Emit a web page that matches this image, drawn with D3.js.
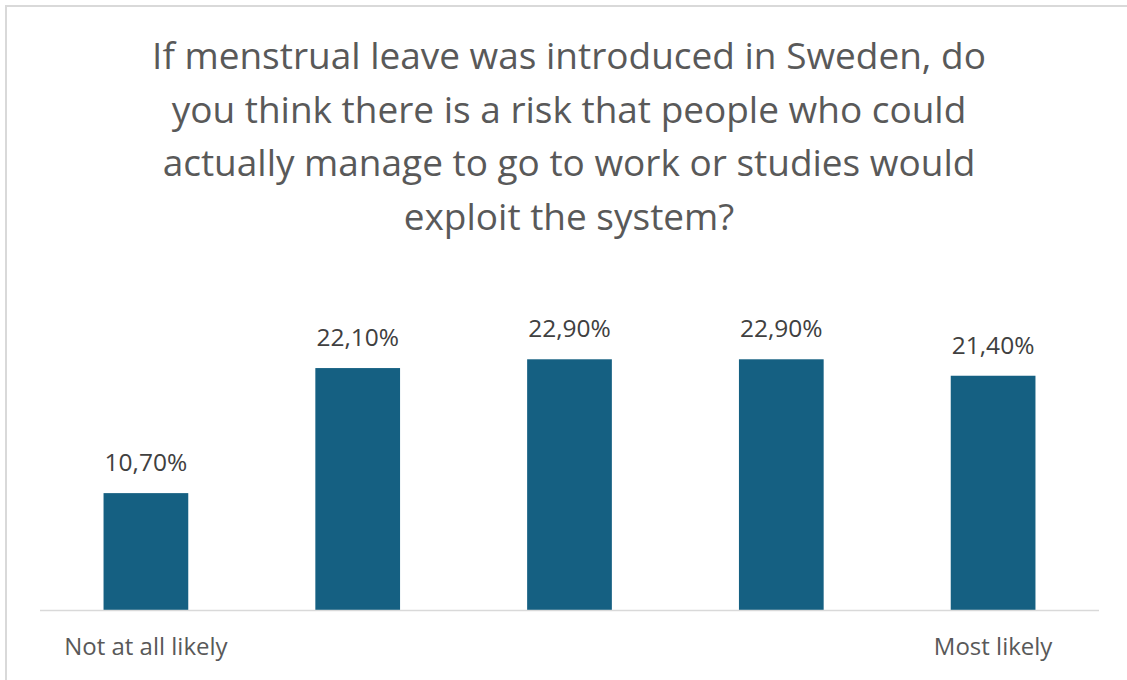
<!DOCTYPE html>
<html>
<head>
<meta charset="utf-8">
<script src="https://cdn.jsdelivr.net/npm/d3@7"></script>
<style>
  html, body { margin: 0; padding: 0; background: #ffffff; }
  svg { display: block; }
</style>
</head>
<body>
<svg id="chart" width="1127" height="680"></svg>
<script>
// Survey answers on a 1–5 scale, share of respondents (%)
const categories = ["1", "2", "3", "4", "5"];
const categoryLabels = ["Not at all likely", "", "", "", "Most likely"];
const values = [10.7, 22.1, 22.9, 22.9, 21.4];
const valueLabels = ["10,70%", "22,10%", "22,90%", "22,90%", "21,40%"];
const titleLines = [
  "If menstrual leave was introduced in Sweden, do",
  "you think there is a risk that people who could",
  "actually manage to go to work or studies would",
  "exploit the system?"
];

const W = 1127, H = 680;
const fontFamily = "'Open Sans', 'Noto Sans', sans-serif";
const svg = d3.select("#chart");

// Chart frame
svg.append("rect")
  .attr("x", 6).attr("y", 6)
  .attr("width", W + 20).attr("height", H + 20)
  .attr("fill", "#ffffff")
  .attr("stroke", "#d9d9d9")
  .attr("stroke-width", 2);

// Title
const title = svg.append("g").attr("class", "title");
const titleText = title.selectAll("text")
  .data(titleLines)
  .join("text")
  .attr("x", 569)
  .attr("y", (d, i) => 69 + i * 53.7)
  .attr("text-anchor", "middle")
  .attr("fill", "#595959")
  .attr("font-family", fontFamily)
  .attr("font-size", 35)
  .text(d => d);
// fit the first line to its intended width
{
  const w = titleText.node().getComputedTextLength();
  const fs = 35 * 834 / w;
  titleText.attr("font-size", fs);
}

// Plot area
const x0 = 40, x1 = 1099, baseY = 610.5, pxPerPct = 10.97;
const x = d3.scaleBand()
  .domain(categories)
  .range([x0, x1])
  .paddingInner(0.6)
  .paddingOuter(0.3);
const y = d3.scaleLinear()
  .domain([0, 25])
  .range([baseY, baseY - 25 * pxPerPct]);

const data = categories.map((c, i) => ({
  key: c, label: categoryLabels[i], value: values[i], text: valueLabels[i]
}));

svg.append("g").selectAll("rect")
  .data(data)
  .join("rect")
  .attr("x", d => x(d.key))
  .attr("y", d => y(d.value))
  .attr("width", x.bandwidth())
  .attr("height", d => y(0) - y(d.value))
  .attr("fill", "#156082");

// Value labels
svg.append("g").selectAll("text")
  .data(data)
  .join("text")
  .attr("x", d => x(d.key) + x.bandwidth() / 2)
  .attr("y", d => y(d.value) - 22)
  .attr("text-anchor", "middle")
  .attr("fill", "#404040")
  .attr("font-family", fontFamily)
  .attr("font-size", 24.5)
  .text(d => d.text);

// Category axis
const axis = svg.append("g")
  .attr("transform", `translate(0,${baseY})`)
  .call(d3.axisBottom(x).tickSize(0).tickPadding(0).tickFormat((d, i) => categoryLabels[i]));
axis.select(".domain").attr("stroke", "#d9d9d9").attr("stroke-width", 1.5)
  .attr("d", `M${x0},0H${x1}`);
axis.selectAll(".tick text")
  .attr("dy", 0)
  .attr("y", 44.5)
  .attr("fill", "#595959")
  .attr("font-family", fontFamily)
  .attr("font-size", 24);
</script>
</body>
</html>
